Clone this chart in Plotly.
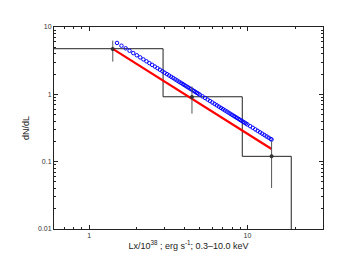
import plotly.graph_objects as go

# Histogram (step) : bin edges and levels
hist_edges = [0.5, 2.93, 9.27, 18.9]
hist_levels = [4.76, 0.92, 0.12]
hist_floor = 0.005

# Data points with error bars
pt_x = [1.41, 4.46, 14.2]
pt_y = [4.73, 0.91, 0.12]
pt_upper = [6.28, 1.31, 0.20]
pt_lower = [3.06, 0.517, 0.0407]

# Red model line
red_x = [1.41, 14.2]
red_y = [4.73, 0.1545]

# Blue model (open circles)
blue_x = [1.5, 1.6, 1.7, 1.8, 1.9, 2.0, 2.1, 2.2, 2.3, 2.4, 2.5, 2.6, 2.7, 2.8, 2.9,
          3.0, 3.1, 3.2, 3.3, 3.4, 3.5, 3.6, 3.7, 3.8, 3.9, 4.0, 4.1, 4.2, 4.3, 4.4,
          4.5, 4.6, 4.7, 4.8, 4.9, 5.0, 5.2, 5.4, 5.6, 5.8, 6.0, 6.2, 6.4, 6.6, 6.8,
          7.0, 7.2, 7.4, 7.6, 7.8, 8.0, 8.2, 8.4, 8.6, 8.8, 9.0, 9.2, 9.4, 9.6, 9.8,
          10.0, 10.4, 10.8, 11.2, 11.6, 12.0, 12.4, 12.8, 13.2, 13.6, 14.0, 14.2]
blue_y = [5.800, 5.275, 4.825, 4.436, 4.097, 3.800, 3.537, 3.303, 3.094, 2.907,
          2.737, 2.584, 2.444, 2.317, 2.201, 2.094, 1.995, 1.904, 1.820, 1.742,
          1.669, 1.601, 1.538, 1.479, 1.424, 1.372, 1.323, 1.277, 1.233, 1.192,
          1.154, 1.117, 1.082, 1.049, 1.018, 0.988, 0.9327, 0.8824, 0.8364, 0.7944,
          0.7558, 0.7202, 0.6874, 0.6570, 0.6287, 0.6025, 0.5781, 0.5552, 0.5339,
          0.5139, 0.4951, 0.4775, 0.4609, 0.4452, 0.4304, 0.4164, 0.4032, 0.3906,
          0.3787, 0.3674, 0.3567, 0.3367, 0.3185, 0.3019, 0.2868, 0.2728, 0.2600,
          0.2481, 0.2372, 0.2270, 0.2175, 0.2130]

x_tickvals = [1, 10]
x_ticktext = ["1", "10"]
y_tickvals = [0.01, 0.1, 1, 10]
y_ticktext = ["0.01", "0.1", "1", "10"]

# build step path from histogram arrays
step_x, step_y = [], []
for i, lvl in enumerate(hist_levels):
    step_x += [hist_edges[i], hist_edges[i + 1]]
    step_y += [lvl, lvl]
step_x.append(hist_edges[-1])
step_y.append(hist_floor)

fig = go.Figure()
fig.add_trace(go.Scatter(x=step_x, y=step_y, mode="lines",
                         line=dict(color="#222222", width=1), hoverinfo="skip"))
fig.add_trace(go.Scatter(x=red_x, y=red_y, mode="lines",
                         line=dict(color="#ff0000", width=2.2)))
fig.add_trace(go.Scatter(x=blue_x, y=blue_y, mode="markers",
                         marker=dict(symbol="circle-open", size=3.5, color="#0000ff",
                                     line=dict(width=1, color="#0000ff"))))
fig.add_trace(go.Scatter(
    x=pt_x, y=pt_y, mode="markers",
    marker=dict(size=4, color="#333333"),
    error_y=dict(type="data", symmetric=False,
                 array=[u - y for u, y in zip(pt_upper, pt_y)],
                 arrayminus=[y - l for l, y in zip(pt_lower, pt_y)],
                 color="#555555", thickness=1, width=0)))

minor_x = [0.6, 0.7, 0.8, 0.9, 2, 3, 4, 5, 6, 7, 8, 9, 20, 30]
minor_y = []
for d in [0.01, 0.1, 1]:
    minor_y += [d * k for k in range(2, 10)]

axis_font = dict(family="Liberation Sans, Arial, sans-serif", size=7, color="#333333")
fig.update_layout(
    width=360, height=270,
    margin=dict(l=54, r=37, t=27, b=41),
    paper_bgcolor="white", plot_bgcolor="white",
    showlegend=False,
    font=dict(family="Liberation Sans, Arial, sans-serif", color="#222222"),
    xaxis=dict(type="log", range=[-0.222, 1.477],
               tickvals=x_tickvals, ticktext=x_ticktext,
               ticks="inside", ticklen=4, tickcolor="#222222",
               showline=True, linecolor="#222222", linewidth=1, mirror="ticks",
               showgrid=False, zeroline=False, tickfont=axis_font,
               minor=dict(tickvals=minor_x, ticks="inside", ticklen=2,
                          tickcolor="#222222", showgrid=False),
               title=dict(text="Lx/10<sup>38</sup> ; erg s<sup>-1</sup>; 0.3\u201310.0 keV",
                          font=dict(size=9, color="#222222"), standoff=2)),
    yaxis=dict(type="log", range=[-2, 1],
               tickvals=y_tickvals, ticktext=y_ticktext,
               ticks="inside", ticklen=4, tickcolor="#222222",
               showline=True, linecolor="#222222", linewidth=1, mirror="ticks",
               showgrid=False, zeroline=False, tickfont=axis_font,
               minor=dict(tickvals=minor_y, ticks="inside", ticklen=2,
                          tickcolor="#222222", showgrid=False),
               title=dict(text="dN/dL", font=dict(size=9, color="#222222"), standoff=6)),
)

fig.write_html("out.html", config={"displayModeBar": False},
               post_script="document.body.style.margin='0';document.body.style.padding='0';")
